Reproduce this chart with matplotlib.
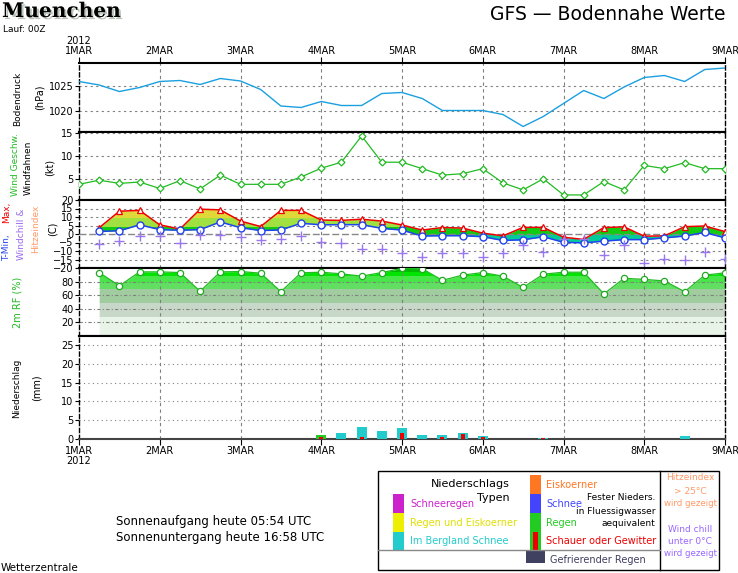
import numpy as np
import matplotlib
matplotlib.use("Agg")
import matplotlib.pyplot as plt
import matplotlib.patheffects as pe
from matplotlib.patches import Rectangle

# Meteogramm Muenchen, GFS Lauf 00Z, 1.-9. Maerz 2012

W, H = 738, 573

tage = ['1MAR', '2MAR', '3MAR', '4MAR', '5MAR', '6MAR', '7MAR', '8MAR', '9MAR']
jahr = '2012'

# Zeitschritte in Tagen ab 1MAR 00Z, alle 6 Stunden
zeit = np.arange(0, 8.01, 0.25)
zeit_t = zeit[1:]   # Temperatur und Feuchte beginnen bei +6h

bodendruck = [1025.9, 1025.2, 1023.9, 1024.7, 1025.9, 1026.1, 1025.3, 1026.5, 1026.0,
              1024.3, 1021.0, 1020.7, 1021.9, 1021.1, 1021.1, 1023.5, 1023.7, 1022.5,
              1020.1, 1020.1, 1020.1, 1019.3, 1016.9, 1018.9, 1021.5, 1024.1, 1022.5,
              1024.8, 1026.7, 1027.1, 1025.9, 1028.3, 1028.6]

wind = [3.8, 4.7, 4.0, 4.3, 2.9, 4.6, 2.8, 5.8, 3.8, 3.8, 3.8, 5.4, 7.3, 8.6, 14.3, 8.6,
        8.6, 7.2, 5.8, 6.1, 7.2, 4.1, 2.6, 5.0, 1.5, 1.5, 4.4, 2.6, 7.9, 7.2, 8.5, 7.2, 7.2]

t_max = [3.7, 13.4, 13.9, 5.4, 2.9, 14.6, 14.2, 7.6, 4.4, 13.9, 13.9, 8.2, 8.0, 8.7, 7.6,
         5.3, 2.3, 3.8, 3.5, 0.5, -1.1, 3.9, 3.9, -1.9, -3.2, 3.8, 4.2, -1.3, -1.1, 4.3,
         4.7, 1.4]
t_min = [1.5, 1.9, 5.4, 2.6, 2.2, 2.6, 7.1, 3.7, 2.0, 2.4, 6.3, 5.4, 5.5, 5.5, 3.3, 2.3,
         -1.2, -1.0, -1.0, -1.6, -3.8, -3.4, -1.6, -4.9, -5.2, -4.2, -3.3, -3.3, -2.3,
         -1.2, 0.9, -2.3]
windchill = [-6.1, -4.2, -1.0, -1.0, -5.0, -0.6, -0.5, -1.9, -3.7, -2.8, -1.1, -4.9, -5.5,
             -8.6, -8.6, -10.9, -13.6, -11.3, -11.3, -13.6, -11.3, -6.4, -10.5, -2.9, -2.9,
             -12.5, -6.4, -17.2, -14.8, -15.4, -10.7, -14.8]

rel_feuchte = [93.3, 73.8, 94.3, 94.3, 93.3, 65.7, 94.3, 94.8, 92.4, 65.2, 92.9, 93.8,
               91.4, 88.0, 93.3, 99.5, 99.0, 81.9, 89.5, 93.3, 88.0, 71.4, 90.9, 93.8,
               93.8, 61.9, 84.8, 83.3, 80.9, 65.2, 89.5, 92.9]

nieder_zeit = [3.0, 3.25, 3.5, 3.75, 4.0, 4.25, 4.5, 4.75, 5.0, 5.75, 7.5]
nieder_mm = [1.1, 1.6, 3.2, 2.2, 2.9, 1.05, 1.05, 1.6, 0.8, 0.3, 0.8]
nieder_konv = [0.4, 0.0, 0.5, 0.0, 1.7, 0.0, 0.5, 1.3, 0.5, 0.25, 0.0]
nieder_typ = ['Regen', 'Berg', 'Berg', 'Berg', 'Berg', 'Berg', 'Berg', 'Berg', 'Berg',
              'Berg', 'Berg']

typ_farbe = {'Regen': '#22cc22', 'Berg': '#22cccc'}

temp_baender = [(-20, 0, '#00cc99'), (0, 5, '#11cc11'), (5, 10, '#a0e040'),
                (10, 20, '#e0d838')]
rf_baender = [(0, 30, '#e8f4e8'), (30, 50, '#c8d8c8'), (50, 70, '#a0cca0'),
              (70, 80, '#62de62'), (80, 90, '#48e648'), (90, 95, '#00e400'),
              (95, 100, '#00bb00')]

fig = plt.figure(figsize=(7.38, 5.73), dpi=100)


def px(x, y):
    return x / W, 1 - y / H


def panel(oben, unten):
    return fig.add_axes([79 / W, 1 - unten / H, (725 - 79) / W, (unten - oben) / H])


def stil(ax, yticks, ylim, gitter, dash=(0, (2, 3))):
    ax.set_xlim(0, 8)
    ax.set_ylim(*ylim)
    ax.set_yticks(yticks)
    ax.set_xticks(range(9))
    ax.tick_params(axis='y', labelsize=7, length=3, width=0.8, pad=1)
    ax.tick_params(axis='x', length=0, labelbottom=False)
    for yv in gitter:
        ax.axhline(yv, color='#808080', lw=0.8, ls=dash, zorder=1)
    for d in range(1, 8):
        ax.axvline(d, color='#808080', lw=0.8, ls=(0, (3, 3)), zorder=1)
    for s in ['left', 'right']:
        ax.spines[s].set_linestyle((0, (3, 2)))
        ax.spines[s].set_linewidth(1.0)
    for s in ['top', 'bottom']:
        ax.spines[s].set_linewidth(1.5)


def band_fuellung(ax, x, y1, y2, baender, z):
    for lo, hi, farbe in baender:
        poly = ax.fill_between(x, y1, y2, color=farbe, lw=0, zorder=z)
        poly.set_clip_path(Rectangle((0, lo), 8, hi - lo, transform=ax.transData))


# Bodendruck
ax1 = panel(63, 132)
stil(ax1, [1020, 1025], (1015.8, 1029.6), [1020, 1025])
ax1.plot(zeit, bodendruck, color='#1a9fe0', lw=1.0, zorder=3)
ax1.tick_params(axis='x', top=True, labeltop=True, bottom=False, length=4,
                labelsize=7, pad=1)
ax1.set_xticklabels([jahr + '\n' + tage[0]] + tage[1:], linespacing=0.95)

# Wind
ax2 = panel(132, 200)
stil(ax2, [5, 10, 15], (0.4, 15.15), [5, 10, 15])
ax2.plot(zeit, wind, color='#22bb22', lw=0.9, marker='D', ms=3.5, mfc='white',
         mec='#22bb22', mew=0.9, zorder=3)

# Temperatur
ax3 = panel(200, 268)
stil(ax3, [-20, -15, -10, -5, 0, 5, 10, 15, 20], (-20, 20), [-15, -10, -5, 5, 10, 15])
ax3.set_yticklabels(['\u221220', '\u221215', '\u221210', '\u22125', '0', '5', '10', '15', '20'])
ax3.axhline(0, color='#888888', lw=1.0, ls=(0, (5, 2)), zorder=3)
band_fuellung(ax3, zeit_t, t_min, t_max, temp_baender, 2)
ax3.plot(zeit_t, t_max, color='#ee0000', lw=1.1, marker='^', ms=4.5, mfc='white',
         mec='#ee0000', mew=0.9, zorder=4)
ax3.plot(zeit_t, t_min, color='#2244ee', lw=1.1, marker='o', ms=5, mfc='white',
         mec='#2244ee', mew=1.0, zorder=4)
ax3.plot(zeit_t, windchill, ls='none', marker='+', ms=6.5, mew=1.0, color='#9977ee',
         zorder=4)

# relative Feuchte
ax4 = panel(268, 336)
stil(ax4, [20, 40, 60, 80], (0, 100), [20, 40, 60, 80], dash=(0, (3, 2, 1, 2)))
band_fuellung(ax4, zeit_t, 0, rel_feuchte, rf_baender, 0.5)
ax4.plot(zeit_t, rel_feuchte, color='#22bb22', lw=0.9, marker='o', ms=4.5, mfc='white',
         mec='#22aa22', mew=0.9, zorder=4)

# Niederschlag
ax5 = panel(336, 439)
stil(ax5, [0, 5, 10, 15, 20, 25], (0, 27.4), [5, 10, 15, 20, 25], dash=(0, (1, 3)))
ax5.spines['bottom'].set_color('#444444')
ax5.bar(nieder_zeit, nieder_mm, width=0.125, color=[typ_farbe[t] for t in nieder_typ],
        zorder=3)
ax5.bar(nieder_zeit, nieder_konv, width=0.05, color='#ee0000', zorder=4)
ax5.tick_params(axis='x', labelbottom=True, length=4, labelsize=7, pad=1)
ax5.set_xticklabels([tage[0] + '\n' + jahr] + tage[1:], linespacing=0.95)


# Achsenbeschriftungen links
def ylab(x, y, s, farbe='black', size=6.5):
    fig.text(*px(x, y), s, rotation=90, ha='center', va='center', color=farbe,
             fontsize=size)


ylab(18, 99, 'Bodendruck')
ylab(40, 97, '(hPa)', size=7)
ylab(15, 165, 'Wind Geschw.', '#22bb22')
ylab(28, 168, 'Windfahnen')
ylab(50, 167, '(kt)', size=7)
ylab(7, 248, 'T-Min,', '#2244ee')
ylab(7, 212, 'Max,', '#ee0000')
ylab(22, 234, 'Windchill &', '#9966ee')
ylab(36, 229, 'Hitzeindex', '#ff9966')
ylab(53, 229, '(C)', size=7)
ylab(17, 302, '2m RF (%)', '#22bb22', size=7)
ylab(17, 388, 'Niederschlag')
ylab(37, 388, '(mm)', size=7)

# Kopf
fig.text(*px(2, 11), 'Muenchen', family='DejaVu Serif', weight='bold', fontsize=14.5,
         color='black', va='center',
         path_effects=[pe.withSimplePatchShadow(offset=(1.5, -1.5),
                                                shadow_rgbFace='#b8c4b8', alpha=1)])
fig.text(*px(3, 29), 'Lauf: 00Z', fontsize=6.5, va='center')
fig.text(*px(726, 15), 'GFS \u2014 Bodennahe Werte', fontsize=13.5, ha='right',
         va='center')

# Fuss
fig.text(*px(116, 521), 'Sonnenaufgang heute 05:54 UTC', fontsize=8.5, va='center')
fig.text(*px(116, 538), 'Sonnenuntergang heute 16:58 UTC', fontsize=8.5, va='center')
fig.text(*px(1, 568), 'Wetterzentrale', fontsize=7.5, va='center')


# Legende
def box(x0, y0, x1, y1, farbe, **kw):
    fx0, fy1 = px(x0, y1)
    fx1, fy0 = px(x1, y0)
    fig.patches.append(Rectangle((fx0, fy1), fx1 - fx0, fy0 - fy1, transform=fig.transFigure,
                                 facecolor=farbe, **kw))


box(378, 471, 719, 570, 'none', edgecolor='black', lw=1.0)
fig.add_artist(plt.Line2D([660 / W, 660 / W], [1 - 471 / H, 1 - 570 / H],
                          transform=fig.transFigure, color='black', lw=1.0))
fig.add_artist(plt.Line2D([378 / W, 660 / W], [1 - 550 / H, 1 - 550 / H],
                          transform=fig.transFigure, color='#888888', lw=1.0))

box(393, 494, 404, 513, '#cc22cc')
box(393, 513, 404, 532, '#eeee00')
box(393, 532, 404, 550, '#22cccc')
box(530, 475, 541, 494, '#ff7722')
box(530, 494, 541, 513, '#4444ff')
box(530, 513, 541, 550, '#22cc22')
box(533, 532, 538, 550, '#ee0000')
box(526, 551, 545, 563, '#404060')


def ltext(x, y, s, farbe='black', ha='left', size=7):
    fig.text(*px(x, y), s, color=farbe, ha=ha, va='center', fontsize=size)


ltext(510, 484, 'Niederschlags', ha='right', size=8)
ltext(510, 498, 'Typen', ha='right', size=8)
ltext(410, 504, 'Schneeregen', '#cc22cc')
ltext(410, 523, 'Regen und Eiskoerner', '#e0e000')
ltext(410, 541, 'Im Bergland Schnee', '#22cccc')
ltext(546, 485, 'Eiskoerner', '#ff7722')
ltext(546, 504, 'Schnee', '#4444ff')
ltext(546, 523, 'Regen', '#22cc22')
ltext(546, 541, 'Schauer oder Gewitter', '#ee0000')
ltext(655, 498, 'Fester Nieders.', ha='right', size=6.5)
ltext(655, 511, 'in Fluessigwasser', ha='right', size=6.5)
ltext(655, 523, 'aequivalent', ha='right', size=6.5)
ltext(550, 560, 'Gefrierender Regen', '#404060')
ltext(690, 478, 'Hitzeindex', '#ff9966', ha='center', size=6.5)
ltext(690, 491, '> 25\u00b0C', '#ff9966', ha='center', size=6.5)
ltext(690, 503, 'wird gezeigt', '#ff9966', ha='center', size=6.2)
ltext(690, 530, 'Wind chill', '#9966ff', ha='center', size=6.5)
ltext(690, 542, 'unter 0\u00b0C', '#9966ff', ha='center', size=6.5)
ltext(690, 553, 'wird gezeigt', '#9966ff', ha='center', size=6.2)

fig.savefig('out.png', dpi=100)
